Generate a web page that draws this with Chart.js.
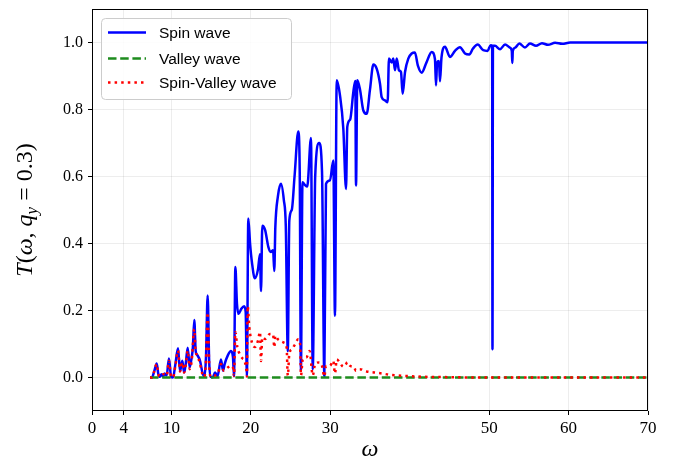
<!DOCTYPE html>
<html>
<head>
<meta charset="utf-8">
<script src="https://cdn.jsdelivr.net/npm/chart.js@4.4.0/dist/chart.umd.min.js"></script>
<style>
  html, body { margin: 0; padding: 0; background: #fff; }
  canvas { display: block; }
</style>
</head>
<body>
<canvas id="chart" width="678" height="462"></canvas>
<script>
// values (omega, transmission)
const spinOmega = [7.30, 7.55, 7.85, 8.15, 8.35, 8.55, 8.75, 8.95, 9.15, 9.40, 9.69, 9.95, 10.2, 10.5, 10.83,
  11.08, 11.37, 11.6, 11.8, 12.05, 12.3, 12.55, 12.7, 12.88, 13.05, 13.2, 13.6, 13.9, 14.15, 14.35, 14.56,
  14.75, 14.95, 15.2, 15.5, 15.8, 16.24, 16.5, 16.7, 17.1, 17.5, 17.75, 17.88, 18.05, 18.25, 18.45, 18.8,
  19.15, 19.35, 19.5, 19.68, 19.9, 20.14, 20.5, 20.9, 21.15, 21.28, 21.44, 21.8, 22.2, 22.5, 22.8, 22.95,
  23.08, 23.4, 23.79, 24.15, 24.4, 24.65, 24.84, 25.15, 25.5, 25.97, 26.15, 26.3, 26.5, 26.8, 27.1, 27.57,
  27.79, 28.1, 28.6, 28.96, 29.25, 29.46, 29.96, 30.38, 30.59, 30.81, 31.22, 31.64, 31.98, 32.14, 32.5,
  32.9, 33.15, 33.24, 33.4, 33.74, 34.16, 34.58, 35.0, 35.42, 35.84, 36.26, 36.47, 36.89, 37.22, 37.39,
  37.73, 37.93, 38.15, 38.36, 38.65, 38.9, 39.11, 39.41, 39.82, 40.25, 40.65, 41.04, 41.51, 42.1, 42.77,
  43.18, 43.31, 43.45, 43.69, 43.81, 44.0, 44.44, 45.07, 45.7, 46.33, 46.96, 47.5, 47.97, 48.56, 49.26,
  49.8, 50.19, 50.38, 50.42, 50.48, 50.74, 51.37, 52.0, 52.6, 52.85, 52.92, 52.98, 53.3, 53.8, 54.51,
  55.14, 55.9, 56.65, 57.41, 58.3, 59.2, 60.2, 70.0];
const spinT = [0, 0, 0.02, 0.042, 0.01, 0.002, 0.01, 0.003, 0.012, 0.006, 0.057, 0.003, 0, 0.04, 0.087,
  0.019, 0.05, 0.015, 0.04, 0.089, 0.03, 0.06, 0.09, 0.172, 0.08, 0.069, 0.05, 0.015, 0.003, 0.06, 0.245,
  0.05, 0.002, 0.001, 0.015, 0.003, 0.054, 0.02, 0.04, 0.066, 0.079, 0.06, 0.004, 0.33, 0.22, 0.19, 0.205,
  0.213, 0.195, 0.005, 0.475, 0.40, 0.343, 0.296, 0.323, 0.368, 0.258, 0.453, 0.44, 0.39, 0.375, 0.38, 0.318,
  0.448, 0.54, 0.578, 0.53, 0.45, 0.079, 0.468, 0.50, 0.60, 0.734, 0.62, 0.02, 0.583, 0.575, 0.57, 0.715,
  0.024, 0.60, 0.70, 0.613, 0.004, 0.578, 0.588, 0.648, 0.184, 0.887, 0.842, 0.743, 0.563, 0.748, 0.77,
  0.852, 0.885, 0.573, 0.887, 0.86, 0.797, 0.787, 0.86, 0.934, 0.922, 0.877, 0.837, 0.827, 0.822, 0.952,
  0.94, 0.952, 0.917, 0.952, 0.917, 0.912, 0.847, 0.912, 0.952, 0.967, 0.97, 0.93, 0.91, 0.94, 0.972,
  0.95, 0.872, 0.94, 0.945, 0.884, 0.955, 0.987, 0.957, 0.975, 0.986, 0.967, 0.964, 0.982, 0.994, 0.977,
  0.975, 0.992, 0.99, 0.084, 0.99, 0.99, 0.98, 0.994, 0.985, 0.975, 0.939, 0.975, 0.985, 0.997, 0.985,
  0.997, 0.99, 0.998, 0.993, 0.999, 0.996, 1.0, 1.0];

const valleyOmega = [7.3, 70];
const valleyT = [0, 0];

const svOmega = [7.30, 7.55, 7.85, 8.15, 8.35, 8.6, 9.0, 9.4, 9.69, 9.95, 10.2, 10.5, 10.83, 11.08, 11.37,
  11.6, 11.8, 12.05, 12.3, 12.55, 12.88, 13.05, 13.22, 13.6, 13.9, 14.15, 14.35, 14.56, 14.75, 14.95, 15.3,
  15.8, 16.24, 16.6, 17.1, 17.5, 17.75, 17.88, 18.05, 18.3, 18.6, 18.9, 19.2, 19.45, 19.5, 19.6, 19.8,
  20.14, 20.52, 20.9, 21.15, 21.28, 21.44, 21.8, 22.4, 22.8, 22.95, 23.08, 23.42, 24.17, 24.5, 24.65,
  24.84, 25.2, 25.56, 25.97, 26.2, 26.31, 26.53, 27.0, 27.4, 27.79, 28.1, 28.6, 28.96, 29.25, 29.46,
  29.96, 30.38, 30.59, 30.81, 31.2, 31.64, 31.98, 32.14, 32.5, 33.0, 33.24, 33.7, 34.58, 35.5, 36.5,
  37.5, 38.5, 40.0, 42.0, 45.0, 48.0, 70.0];
const svT = [0, 0, 0.02, 0.04, 0.01, 0.002, 0.01, 0.005, 0.05, 0.003, 0, 0.035, 0.08, 0.018, 0.045,
  0.015, 0.035, 0.08, 0.025, 0.05, 0.144, 0.075, 0.068, 0.04, 0.01, 0.002, 0.05, 0.194, 0.04, 0.002, 0.005,
  0.01, 0.04, 0.02, 0.03, 0.035, 0.03, 0.005, 0.136, 0.09, 0.07, 0.058, 0.05, 0.02, 0.003, 0.213, 0.15,
  0.104, 0.091, 0.11, 0.136, 0.049, 0.12, 0.115, 0.13, 0.129, 0.09, 0.125, 0.114, 0.104, 0.09, 0.006,
  0.07, 0.085, 0.099, 0.114, 0.1, 0.006, 0.054, 0.06, 0.079, 0.006, 0.041, 0.045, 0.035, 0.003, 0.034,
  0.035, 0.05, 0.012, 0.054, 0.045, 0.032, 0.04, 0.046, 0.035, 0.03, 0.02, 0.025, 0.018, 0.015, 0.012,
  0.008, 0.006, 0.004, 0.002, 0.001, 0, 0];

const xTicks = [0, 4, 10, 20, 30, 50, 60, 70];
const yTicks = [0, 0.2, 0.4, 0.6, 0.8, 1.0];

const toPoints = (xs, ys) => xs.map((x, i) => ({ x: x, y: ys[i] }));

const SERIF = '"Liberation Serif", "DejaVu Serif", serif';
const SANS = '"Liberation Sans", "DejaVu Sans", sans-serif';

// frame, axis titles and legend drawn by hand (matplotlib look)
const decorations = {
  id: 'decorations',
  afterDraw(chart) {
    const ctx = chart.ctx;
    const a = chart.chartArea;
    ctx.save();

    // frame
    ctx.strokeStyle = '#000';
    ctx.lineWidth = 1;
    ctx.strokeRect(Math.round(a.left) + 0.5, Math.round(a.top) + 0.5,
      Math.round(a.right - a.left) - 1, Math.round(a.bottom - a.top) - 1);

    // x title
    ctx.fillStyle = '#000';
    ctx.font = 'italic 24px ' + SERIF;
    ctx.textAlign = 'center';
    ctx.textBaseline = 'alphabetic';
    ctx.fillText('ω', (a.left + a.right) / 2, 456);

    // y title with subscript
    const parts = [
      ['T', 'italic 24px ' + SERIF, 0],
      ['(', '24px ' + SERIF, 0],
      ['ω', 'italic 24px ' + SERIF, 0],
      [', ', '24px ' + SERIF, 0],
      ['q', 'italic 24px ' + SERIF, 0],
      ['y', 'italic 17px ' + SERIF, 5],
      [' = 0.3)', '24px ' + SERIF, 0]
    ];
    let total = 0;
    parts.forEach(p => { ctx.font = p[1]; total += ctx.measureText(p[0]).width; });
    ctx.translate(32, (a.top + a.bottom) / 2);
    ctx.rotate(-Math.PI / 2);
    ctx.textAlign = 'left';
    let x = -total / 2;
    parts.forEach(p => {
      ctx.font = p[1];
      ctx.fillText(p[0], x, p[2]);
      x += ctx.measureText(p[0]).width;
    });
    ctx.setTransform(1, 0, 0, 1, 0, 0);

    // legend
    const bx = 101.5, by = 18.5, bw = 190, bh = 81;
    ctx.beginPath();
    ctx.roundRect(bx, by, bw, bh, 4);
    ctx.fillStyle = 'rgba(255,255,255,0.85)';
    ctx.fill();
    ctx.strokeStyle = '#cccccc';
    ctx.stroke();
    const rows = [32.5, 58.5, 82.5];
    chart.data.datasets.forEach((ds, i) => {
      ctx.beginPath();
      ctx.strokeStyle = ds.borderColor;
      ctx.lineWidth = ds.borderWidth;
      ctx.setLineDash(ds.borderDash || []);
      ctx.moveTo(108, rows[i]);
      ctx.lineTo(146, rows[i]);
      ctx.stroke();
      ctx.setLineDash([]);
      ctx.fillStyle = '#000';
      ctx.font = '15.5px ' + SANS;
      ctx.textBaseline = 'middle';
      ctx.fillText(ds.label, 159, rows[i] + 1);
    });
    ctx.restore();
  }
};

new Chart(document.getElementById('chart'), {
  type: 'line',
  data: {
    datasets: [
      {
        label: 'Spin wave',
        data: toPoints(spinOmega, spinT),
        borderColor: '#0000ff',
        borderWidth: 2.5,
        order: 3
      },
      {
        label: 'Valley wave',
        data: toPoints(valleyOmega, valleyT),
        borderColor: '#1e8c1e',
        borderWidth: 2.5,
        borderDash: [8.5, 3.7],
        order: 2
      },
      {
        label: 'Spin-Valley wave',
        data: toPoints(svOmega, svT),
        borderColor: '#ff0000',
        borderWidth: 2.5,
        borderDash: [2.5, 4.1],
        order: 1
      }
    ]
  },
  options: {
    responsive: false,
    animation: false,
    devicePixelRatio: 1,
    layout: { padding: { left: 0, right: 30, top: 9, bottom: 0 } },
    elements: {
      point: { radius: 0 },
      line: { cubicInterpolationMode: 'monotone', borderCapStyle: 'butt', borderJoinStyle: 'round' }
    },
    plugins: {
      legend: { display: false },
      tooltip: { enabled: false }
    },
    scales: {
      x: {
        type: 'linear',
        min: 0,
        max: 70,
        afterBuildTicks: s => { s.ticks = xTicks.map(v => ({ value: v })); },
        afterFit: s => { s.height = 51; s.paddingLeft = 0; s.paddingRight = 0; },
        grid: { color: 'rgba(0,0,0,0.07)', tickColor: '#000', tickLength: 4, lineWidth: 1 },
        border: { display: false },
        ticks: {
          color: '#000',
          padding: 3,
          maxRotation: 0,
          autoSkip: false,
          font: { family: SERIF, size: 17 },
          callback: v => String(v)
        }
      },
      y: {
        min: -0.1,
        max: 1.1,
        afterBuildTicks: s => { s.ticks = yTicks.map(v => ({ value: v })); },
        afterFit: s => { s.width = 92; s.paddingTop = 0; s.paddingBottom = 0; },
        grid: { color: 'rgba(0,0,0,0.07)', tickColor: '#000', tickLength: 4, lineWidth: 1 },
        border: { display: false },
        ticks: {
          color: '#000',
          padding: 5,
          font: { family: SERIF, size: 16 },
          callback: v => v.toFixed(1)
        }
      }
    }
  },
  plugins: [decorations]
});
</script>
</body>
</html>
